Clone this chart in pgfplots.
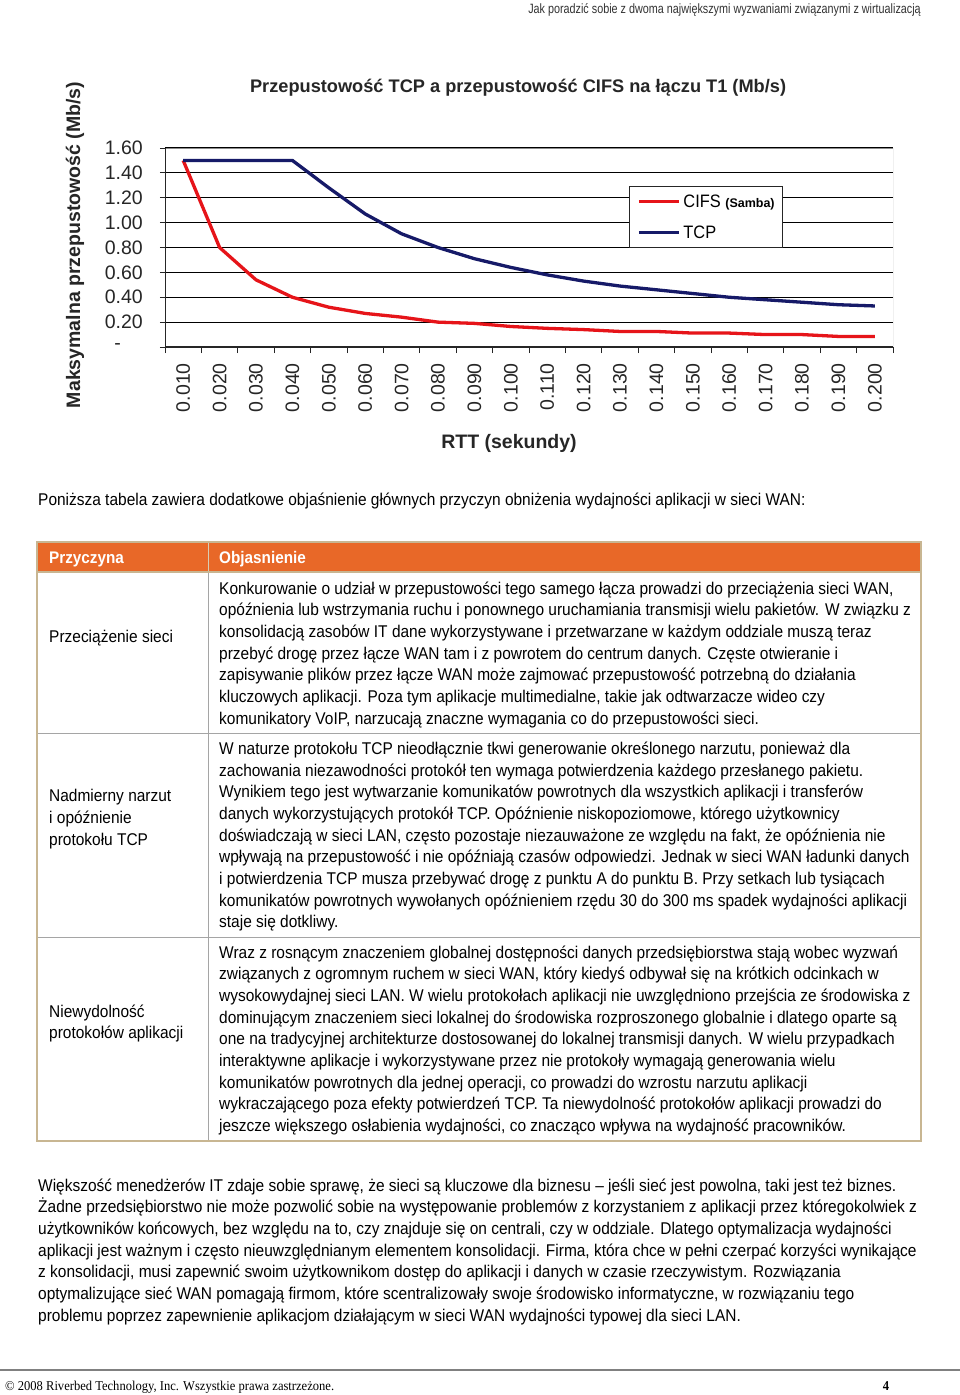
\documentclass[border=0pt]{standalone}
\usepackage{fontspec}
\setmainfont{Liberation Sans}
\newfontfamily\nar[FakeStretch=0.91]{Liberation Sans}
\newfontfamily\narh[FakeStretch=0.80]{Liberation Sans}
\newfontfamily\sernar[FakeStretch=0.93]{Liberation Serif}
\usepackage{pgfplots}
\pgfplotsset{compat=1.18}
\definecolor{hdrorange}{RGB}{232,104,40}
\definecolor{tabtan}{RGB}{200,182,146}
\definecolor{tabgray}{RGB}{165,165,165}
\definecolor{cifsred}{RGB}{230,20,25}
\definecolor{tcpnavy}{RGB}{22,26,104}
\newcommand\fs[1]{\fontsize{#1}{#1}\selectfont}
\newcommand\TL[3]{\node[anchor=base west, inner sep=0pt, font=\nar\fs{17}] at (#1,#2) {#3};}
\newcommand\zerolab{\raisebox{-1pt}{-}\rule{22pt}{0pt}}
\begin{document}
\begin{tikzpicture}[x=1pt,y=-1pt]
\path[use as bounding box, fill=white] (0,0) rectangle (960,1395);

% running header
\node[anchor=base east, inner sep=0pt, font=\narh\fs{13.5}, text=black!80] at (921,13) {Jak poradzić sobie z dwoma największymi wyzwaniami związanymi z wirtualizacją};

% chart
\begin{axis}[
  at={(165pt,-347pt)}, anchor=south west,
  scale only axis, width=728pt, height=199pt,
  xmin=0.5, xmax=20.5, ymin=0, ymax=1.6,
  xtick={1,...,20},
  xticklabels={0.010,0.020,0.030,0.040,0.050,0.060,0.070,0.080,0.090,0.100,0.110,0.120,0.130,0.140,0.150,0.160,0.170,0.180,0.190,0.200},
  major x tick style={draw=none},
  minor xtick={0.5,1.5,...,20.5},
  minor x tick style={black!85, line width=1pt},
  ytick={0,0.2,0.4,0.6,0.8,1.0,1.2,1.4,1.6},
  yticklabels={\zerolab,0.20,0.40,0.60,0.80,1.00,1.20,1.40,1.60},
  y tick style={black!85, line width=1pt},
  tick align=outside, major tick length=5pt, minor tick length=6pt,
  xtick pos=bottom, ytick pos=left,
  ymajorgrids, major grid style={black, line width=1.1pt},
  axis line style={draw=none},
  /pgf/number format/assume math mode=true,
  ticklabel style={font=\fs{19.5}, text=black!85},
  xticklabel style={yshift=-11pt, rotate=90, anchor=east, inner sep=0pt},
  yticklabel style={xshift=-17pt, anchor=east, inner sep=0pt},
  title={Przepustowość TCP a przepustowość CIFS na łączu T1 (Mb/s)},
  title style={at={(0.485,1.272)}, anchor=center, font=\bfseries\fs{18.2}, text=black!85},
  xlabel={RTT (sekundy)},
  xlabel style={at={(0.4725,-0.487)}, anchor=center, font=\bfseries\fs{19.5}, text=black!85},
  ylabel={Maksymalna przepustowość (Mb/s)},
  ylabel style={at={(-0.1236,0.5126)}, anchor=center, font=\bfseries\fs{19.5}, text=black!85},
  legend style={at={(0.637,0.809)}, anchor=north west, draw=black!85, line width=0.9pt,
    fill=white, inner xsep=8pt, inner ysep=8pt, row sep=17pt, nodes={inner sep=0pt},
    font=\nar\fs{18}},
  legend cell align=left,
  legend image code/.code={\draw[#1] (0pt,0pt) -- (40pt,0pt);},
]
\addplot[color=cifsred, line width=3.3pt, line join=round] coordinates {
 (1,1.50) (2,0.80) (3,0.54) (4,0.40) (5,0.32) (6,0.27) (7,0.24) (8,0.20) (9,0.19) (10,0.165)
 (11,0.15) (12,0.14) (13,0.125) (14,0.125) (15,0.112) (16,0.112) (17,0.10) (18,0.10) (19,0.085) (20,0.085)};
\addlegendentry{\hspace{3pt}CIFS {\fontspec{Liberation Sans}\bfseries\fs{12.5}(Samba)}}
\addplot[color=tcpnavy, line width=3.3pt, line join=round] coordinates {
 (1,1.50) (2,1.50) (3,1.50) (4,1.50) (5,1.28) (6,1.07) (7,0.91) (8,0.80) (9,0.71) (10,0.64)
 (11,0.58) (12,0.53) (13,0.49) (14,0.46) (15,0.43) (16,0.40) (17,0.38) (18,0.36) (19,0.34) (20,0.33)};
\addlegendentry{\hspace{3pt}TCP}
\draw[black!45, line width=1pt] (rel axis cs:0,1) -- (rel axis cs:1,1) -- (rel axis cs:1,0);
\draw[black!85, line width=1.2pt] (rel axis cs:0,1) -- (rel axis cs:0,0) -- (rel axis cs:1,0);
\end{axis}

% intro
\TL{38}{505}{Poniższa tabela zawiera dodatkowe objaśnienie głównych przyczyn obniżenia wydajności aplikacji w sieci WAN:}

% table
\fill[hdrorange] (37,542) rectangle (921,572);
\draw[tabgray, line width=1pt] (208,572) -- (208,1141);
\draw[tabgray, line width=1pt] (37,733) -- (921,733);
\draw[tabgray, line width=1pt] (37,937) -- (921,937);
\draw[tabtan!70!white, line width=1pt] (208,542) -- (208,572);
\draw[tabtan, line width=1.2pt] (37,572) -- (921,572);
\draw[tabtan, line width=1.4pt] (37,542) rectangle (921,1141);
\node[anchor=base west, inner sep=0pt, font=\nar\bfseries\fs{16.8}, text=white] at (49,563.3) {Przyczyna};
\node[anchor=base west, inner sep=0pt, font=\nar\bfseries\fs{16.8}, text=white] at (219,563.3) {Objasnienie};

\TL{49}{642}{Przeciążenie sieci}
\TL{219}{594.0}{Konkurowanie o udział w przepustowości tego samego łącza prowadzi do przeciążenia sieci WAN,}
\TL{219}{615.7}{opóźnienia lub wstrzymania ruchu i ponownego uruchamiania transmisji wielu pakietów. W związku z}
\TL{219}{637.4}{konsolidacją zasobów IT dane wykorzystywane i przetwarzane w każdym oddziale muszą teraz}
\TL{219}{659.1}{przebyć drogę przez łącze WAN tam i z powrotem do centrum danych. Częste otwieranie i}
\TL{219}{680.8}{zapisywanie plików przez łącze WAN może zajmować przepustowość potrzebną do działania}
\TL{219}{702.5}{kluczowych aplikacji. Poza tym aplikacje multimedialne, takie jak odtwarzacze wideo czy}
\TL{219}{724.2}{komunikatory VoIP, narzucają znaczne wymagania co do przepustowości sieci.}

\TL{49}{801.7}{Nadmierny narzut}
\TL{49}{823.4}{i opóźnienie}
\TL{49}{845.1}{protokołu TCP}
\TL{219}{754.3}{W naturze protokołu TCP nieodłącznie tkwi generowanie określonego narzutu, ponieważ dla}
\TL{219}{776.0}{zachowania niezawodności protokół ten wymaga potwierdzenia każdego przesłanego pakietu.}
\TL{219}{797.7}{Wynikiem tego jest wytwarzanie komunikatów powrotnych dla wszystkich aplikacji i transferów}
\TL{219}{819.4}{danych wykorzystujących protokół TCP. Opóźnienie niskopoziomowe, którego użytkownicy}
\TL{219}{841.1}{doświadczają w sieci LAN, często pozostaje niezauważone ze względu na fakt, że opóźnienia nie}
\TL{219}{862.8}{wpływają na przepustowość i nie opóźniają czasów odpowiedzi. Jednak w sieci WAN ładunki danych}
\TL{219}{884.5}{i potwierdzenia TCP musza przebywać drogę z punktu A do punktu B. Przy setkach lub tysiącach}
\TL{219}{906.2}{komunikatów powrotnych wywołanych opóźnieniem rzędu 30 do 300 ms spadek wydajności aplikacji}
\TL{219}{927.9}{staje się dotkliwy.}

\TL{49}{1017}{Niewydolność}
\TL{49}{1038.7}{protokołów aplikacji}
\TL{219}{958.0}{Wraz z rosnącym znaczeniem globalnej dostępności danych przedsiębiorstwa stają wobec wyzwań}
\TL{219}{979.7}{związanych z ogromnym ruchem w sieci WAN, który kiedyś odbywał się na krótkich odcinkach w}
\TL{219}{1001.4}{wysokowydajnej sieci LAN. W wielu protokołach aplikacji nie uwzględniono przejścia ze środowiska z}
\TL{219}{1023.1}{dominującym znaczeniem sieci lokalnej do środowiska rozproszonego globalnie i dlatego oparte są}
\TL{219}{1044.8}{one na tradycyjnej architekturze dostosowanej do lokalnej transmisji danych. W wielu przypadkach}
\TL{219}{1066.5}{interaktywne aplikacje i wykorzystywane przez nie protokoły wymagają generowania wielu}
\TL{219}{1088.2}{komunikatów powrotnych dla jednej operacji, co prowadzi do wzrostu narzutu aplikacji}
\TL{219}{1109.9}{wykraczającego poza efekty potwierdzeń TCP. Ta niewydolność protokołów aplikacji prowadzi do}
\TL{219}{1131.6}{jeszcze większego osłabienia wydajności, co znacząco wpływa na wydajność pracowników.}

% closing paragraph
\TL{38}{1191.0}{Większość menedżerów IT zdaje sobie sprawę, że sieci są kluczowe dla biznesu – jeśli sieć jest powolna, taki jest też biznes.}
\TL{38}{1212.7}{Żadne przedsiębiorstwo nie może pozwolić sobie na występowanie problemów z korzystaniem z aplikacji przez któregokolwiek z}
\TL{38}{1234.4}{użytkowników końcowych, bez względu na to, czy znajduje się on centrali, czy w oddziale. Dlatego optymalizacja wydajności}
\TL{38}{1256.1}{aplikacji jest ważnym i często nieuwzględnianym elementem konsolidacji. Firma, która chce w pełni czerpać korzyści wynikające}
\TL{38}{1277.8}{z konsolidacji, musi zapewnić swoim użytkownikom dostęp do aplikacji i danych w czasie rzeczywistym. Rozwiązania}
\TL{38}{1299.5}{optymalizujące sieć WAN pomagają firmom, które scentralizowały swoje środowisko informatyczne, w rozwiązaniu tego}
\TL{38}{1321.2}{problemu poprzez zapewnienie aplikacjom działającym w sieci WAN wydajności typowej dla sieci LAN.}

% footer
\draw[black!50, line width=1.6pt] (0,1370) -- (960,1370);
\node[anchor=base west, inner sep=0pt, font=\sernar\fs{13.5}] at (5,1390) {© 2008 Riverbed Technology, Inc. Wszystkie prawa zastrzeżone.};
\node[anchor=base, inner sep=0pt, font=\sernar\bfseries\fs{13.5}] at (886,1390) {4};
\end{tikzpicture}
\end{document}
